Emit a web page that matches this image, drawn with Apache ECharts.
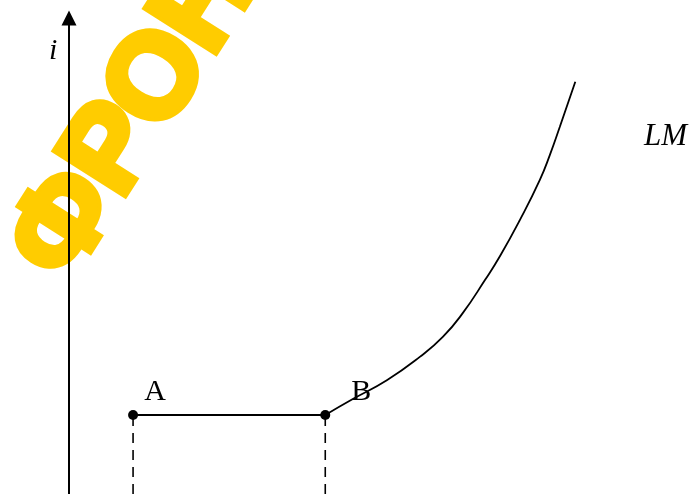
<!DOCTYPE html>
<html>
<head>
<meta charset="utf-8">
<script src="https://cdn.jsdelivr.net/npm/echarts@6/dist/echarts.min.js"></script>
<style>
  html, body { margin: 0; padding: 0; background: #fff; }
  #chart { width: 691px; height: 494px; }
</style>
</head>
<body>
<div id="chart"></div>
<script>
// точки A и B (Y, i)
const pointNames = ['A', 'B'];
const pointY = [1.03, 4.12];
const pointI = [1.66, 1.66];

// кривая LM от точки B вверх
const lmY = [4.12, 4.57, 5.11, 5.64, 6.01, 6.33, 6.69, 6.93, 7.25, 7.57, 7.73, 7.89, 8.14];
const lmI = [1.66, 2.00, 2.39, 2.88, 3.30, 3.80, 4.50, 5.00, 5.76, 6.60, 7.12, 7.71, 8.66];

var myChart = echarts.init(document.getElementById('chart'));

var serifFont = '"Liberation Serif", "Times New Roman", serif';

var option = {
  backgroundColor: '#fff',
  animation: false,
  grid: { left: 69, right: 0, top: 18, bottom: 0 },
  xAxis: {
    type: 'value',
    min: 0,
    max: 10,
    axisLine: { show: false },
    axisTick: { show: false },
    axisLabel: { show: false },
    splitLine: { show: false }
  },
  yAxis: {
    type: 'value',
    min: 0,
    max: 10,
    axisLine: {
      show: true,
      symbol: ['none', 'triangle'],
      symbolSize: [15, 15],
      lineStyle: { color: '#000', width: 2 }
    },
    axisTick: { show: false },
    axisLabel: { show: false },
    splitLine: { show: false }
  },
  graphic: [
    {
      // водяной знак
      type: 'text',
      x: 39, y: 268,
      rotation: 57.5 * Math.PI / 180,
      z: -1,
      style: {
        text: 'ФРОНТ',
        fill: '#FFCC00',
        stroke: '#FFCC00',
        lineWidth: 8,
        fontSize: 118,
        fontWeight: 'bold',
        fontFamily: '"Liberation Sans", Arial, sans-serif',
        textAlign: 'left',
        textVerticalAlign: 'middle'
      }
    },
    {
      type: 'text', left: 49, top: 36,
      style: { text: 'i', fill: '#000', fontSize: 30, fontStyle: 'italic', fontFamily: serifFont }
    },
    {
      type: 'text', left: 644, top: 121,
      style: { text: 'LM', fill: '#000', fontSize: 31, fontStyle: 'italic', fontFamily: serifFont }
    }
  ],
  series: [
    {
      // горизонтальный участок A-B
      type: 'line',
      data: [[pointY[0], pointI[0]], [pointY[1], pointI[1]]],
      symbol: 'none',
      lineStyle: { color: '#000', width: 2.2 }
    },
    {
      // кривая LM
      type: 'line',
      data: lmY.map((v, k) => [v, lmI[k]]),
      smooth: 0.5,
      symbol: 'none',
      lineStyle: { color: '#000', width: 1.8 }
    },
    {
      type: 'line',
      data: [[pointY[0], 0], [pointY[0], pointI[0]]],
      symbol: 'none',
      lineStyle: { color: '#000', width: 1.6, type: [10, 7] }
    },
    {
      type: 'line',
      data: [[pointY[1], 0], [pointY[1], pointI[1]]],
      symbol: 'none',
      lineStyle: { color: '#000', width: 1.6, type: [10, 7] }
    },
    {
      type: 'scatter',
      symbolSize: 10,
      itemStyle: { color: '#000', opacity: 1 },
      z: 5,
      data: pointNames.map((n, k) => ({
        name: n,
        value: [pointY[k], pointI[k]],
        label: { offset: k === 0 ? [22, -23] : [36, -23] }
      })),
      label: {
        show: true,
        position: 'inside',
        formatter: '{b}',
        color: '#000',
        fontSize: 30,
        fontFamily: serifFont
      }
    }
  ]
};

myChart.setOption(option);
</script>
</body>
</html>
